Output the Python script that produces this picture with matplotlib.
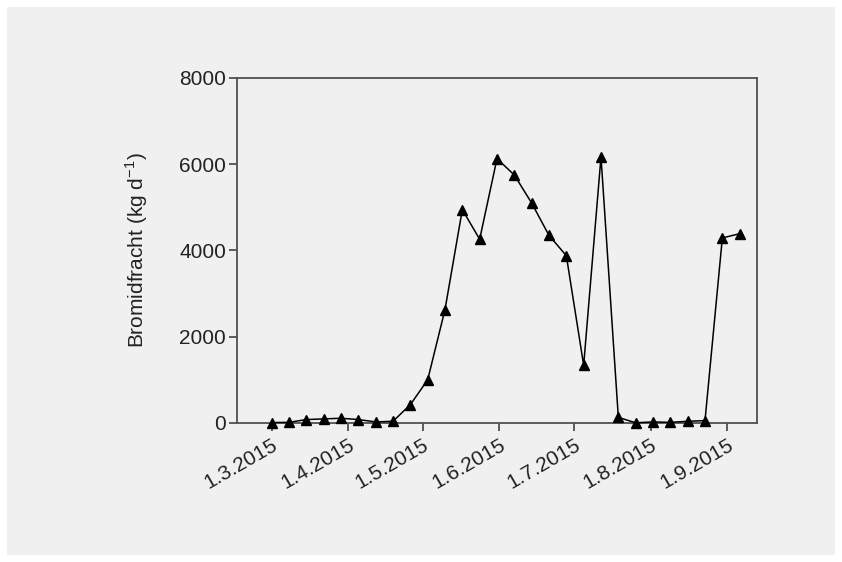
import pandas as pd
import matplotlib
matplotlib.use('Agg')
import matplotlib.pyplot as plt
from matplotlib.patches import Rectangle

plt.rcParams['font.family'] = ['Liberation Sans', 'DejaVu Sans']

# weekly samples from 1.3.2015
sample_dates = pd.date_range('2015-03-01', periods=28, freq='7D')
bromide_load = [10, 15, 80, 95, 110, 80, 25, 40,
                425, 1000, 2630, 4950, 4260, 6130,
                5750, 5100, 4350, 3880, 1340, 6170,
                130, 5, 25, 15, 40, 55, 4290, 4390]
tick_dates = pd.date_range('2015-03-01', '2015-09-01', freq='MS')
tick_labels = [f"{d.day}.{d.month}.{d.year}" for d in tick_dates]

fig = plt.figure(figsize=(8.42, 5.62), dpi=100)
fig.patch.set_facecolor('white')
fig.patches.append(Rectangle((7 / 842, 7 / 562), 828 / 842, 548 / 562,
                             transform=fig.transFigure, facecolor='#f0f0f0',
                             edgecolor='none', zorder=-10))

ax = fig.add_axes([237 / 842, 1 - 423 / 562, 520 / 842, 345 / 562])
ax.set_zorder(1)
ax.set_facecolor('#f0f0f0')

ax.plot(sample_dates, bromide_load, color='black', lw=1.1,
        marker='^', ms=7, mfc='black', mec='black', clip_on=False, zorder=3)

ax.set_xlim(pd.Timestamp('2015-02-15'), pd.Timestamp('2015-09-13'))
ax.set_ylim(0, 8000)
ax.set_yticks([0, 2000, 4000, 6000, 8000])
ax.set_xticks(tick_dates)
ax.set_xticklabels(tick_labels, rotation=30, ha='right', rotation_mode='anchor')

for sp in ax.spines.values():
    sp.set_color('#505050')
    sp.set_linewidth(1.3)
ax.tick_params(direction='out', length=6, width=1.3, color='#505050',
               labelsize=15, labelcolor='#222222', pad=3)
ax.tick_params(axis='y', pad=2)

ax.set_ylabel('Bromidfracht (kg d$^{\\mathregular{-1}}$)', fontsize=15,
              color='#222222', labelpad=21)

fig.savefig('out.png', dpi=100, facecolor=fig.get_facecolor())
